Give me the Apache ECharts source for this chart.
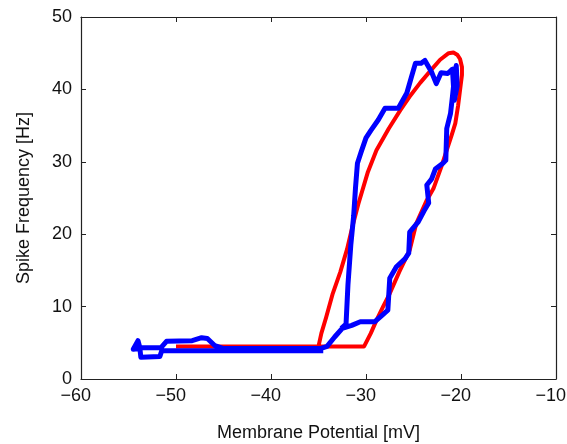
<!DOCTYPE html>
<html>
<head>
<meta charset="utf-8">
<script src="https://cdn.jsdelivr.net/npm/echarts@6/dist/echarts.min.js"></script>
<style>
  html, body { margin: 0; padding: 0; background: #fff; }
  #main { width: 567px; height: 444px; }
</style>
</head>
<body>
<div id="main"></div>
<script>
// axis ranges (mV, Hz)
var xRange = [-60, -10];
var yRange = [0, 50];
var xTitle = 'Membrane Potential [mV]';
var yTitle = 'Spike Frequency [Hz]';

// model curve (red), [potential, frequency]
var redLoop = [
  [-50, 4.5], [-30.2, 4.5], [-29.5, 6.3], [-28.9, 8.1], [-28.2, 10], [-27.5, 11.8],
  [-26.5, 14.8], [-25.4, 17.8], [-24.7, 21.5], [-23.6, 24.7], [-22.9, 26.3],
  [-22.1, 29.2], [-21.5, 31.6], [-21, 33.6], [-20.6, 35.3], [-20.3, 37.8],
  [-20.1, 39.9], [-19.9, 42], [-19.9, 43.1], [-20.1, 44.2], [-20.4, 44.8],
  [-20.8, 45.1], [-21.3, 45], [-22.2, 44.1], [-23.2, 42.6], [-24.3, 40.9],
  [-25.3, 39.2], [-26.4, 37.1], [-27.6, 34.6], [-28.9, 31.6], [-29.8, 28.6],
  [-30.8, 24.2], [-31.4, 21.2], [-32, 17.9], [-32.7, 14.8], [-33.5, 11.8],
  [-34.2, 8.5], [-34.7, 6.3], [-35, 4.5], [-50, 4.5]
];

// measured trace (blue), [potential, frequency]
var blueLoop = [
  [-34.5, 3.9], [-45.0, 3.9], [-51.5, 3.9], [-51.7, 3.1], [-53.7, 3.0],
  [-53.8, 4.2], [-54.5, 4.1], [-54.0, 5.3], [-53.8, 4.3], [-51.6, 4.3],
  [-51.0, 5.2], [-48.3, 5.3], [-47.3, 5.7], [-46.7, 5.6], [-45.9, 4.6],
  [-45.0, 4.2], [-34.8, 4.2], [-34.1, 4.5], [-33.3, 5.8], [-32.5, 7.0],
  [-31.5, 7.4], [-30.6, 7.9], [-29.1, 7.9], [-28.4, 8.7], [-27.7, 9.5],
  [-27.5, 13.9], [-26.8, 15.5], [-25.9, 16.6], [-25.5, 17.4], [-25.4, 20.3],
  [-24.5, 21.7], [-23.9, 23.2], [-23.4, 24.3], [-23.6, 26.8], [-23.1, 27.6],
  [-22.7, 29.0], [-21.9, 29.8], [-21.6, 30.2], [-21.5, 34.6], [-21.1, 36.7],
  [-20.9, 39.0], [-20.7, 41.5], [-20.5, 43.3], [-20.4, 40.5], [-20.7, 38.5],
  [-20.9, 42.8], [-21.4, 42.2], [-22.1, 42.3], [-22.6, 40.8], [-23.1, 42.4],
  [-23.8, 44.0], [-24.2, 43.6], [-24.8, 43.6], [-25.2, 41.8], [-25.7, 39.5],
  [-26.6, 37.4], [-28.0, 37.4], [-28.7, 35.8], [-29.5, 34.3], [-30.0, 33.3],
  [-30.5, 31.4], [-30.9, 29.8], [-31.1, 26.5], [-31.3, 22.5], [-31.6, 18.5],
  [-31.9, 13.0], [-32.1, 7.6], [-32.6, 7.0]
];

var font = 'Liberation Sans, Arial, Helvetica, sans-serif';
var axisColor = '#222';

// matlab-style: digits centred on the tick, minus sign hanging to the left
function minus(v) {
  if (v < 0) return '{m|\u2212}' + Math.abs(v) + '{h|\u2212}';
  return String(v);
}

var chart = echarts.init(document.getElementById('main'), null, { renderer: 'canvas' });

var boxAxis = {
  axisLine: { show: true, onZero: false, lineStyle: { color: axisColor, width: 1.2 } },
  axisTick: { show: true, inside: true, length: 5, lineStyle: { color: axisColor } },
  splitLine: { show: false }
};

var option = {
  backgroundColor: '#fff',
  animation: false,
  grid: { left: 81, right: 11, top: 17, bottom: 65, outerBoundsMode: 'none', containLabel: false },
  xAxis: [
    Object.assign({
      type: 'value', min: xRange[0], max: xRange[1], interval: 10, position: 'bottom',
      name: xTitle, nameLocation: 'middle', nameGap: 45,
      nameTextStyle: { fontFamily: font, fontSize: 18, color: '#111' },
      axisLabel: {
        fontFamily: font, fontSize: 18, color: '#111', margin: 8, formatter: minus,
        rich: {
          m: { fontFamily: font, fontSize: 18, color: '#111' },
          h: { fontFamily: font, fontSize: 18, color: 'rgba(0,0,0,0)' }
        }
      }
    }, boxAxis),
    Object.assign({
      type: 'value', min: xRange[0], max: xRange[1], interval: 10, position: 'top',
      axisLabel: { show: false }
    }, boxAxis)
  ],
  yAxis: [
    Object.assign({
      type: 'value', min: yRange[0], max: yRange[1], interval: 10, position: 'left',
      name: yTitle, nameLocation: 'middle', nameGap: 48, nameRotate: 90,
      nameTextStyle: { fontFamily: font, fontSize: 18, color: '#111' },
      axisLabel: { fontFamily: font, fontSize: 18, color: '#111', margin: 9 }
    }, boxAxis),
    Object.assign({
      type: 'value', min: yRange[0], max: yRange[1], interval: 10, position: 'right',
      axisLabel: { show: false }
    }, boxAxis)
  ],
  series: [
    {
      name: 'model', type: 'line', data: redLoop, showSymbol: false, smooth: false,
      lineStyle: { color: '#ff0000', width: 4, join: 'round' }, silent: true
    },
    {
      name: 'trace', type: 'line', data: blueLoop, showSymbol: false, smooth: false,
      lineStyle: { color: '#0000ff', width: 5, join: 'round' }, silent: true
    }
  ]
};

chart.setOption(option);
</script>
</body>
</html>
